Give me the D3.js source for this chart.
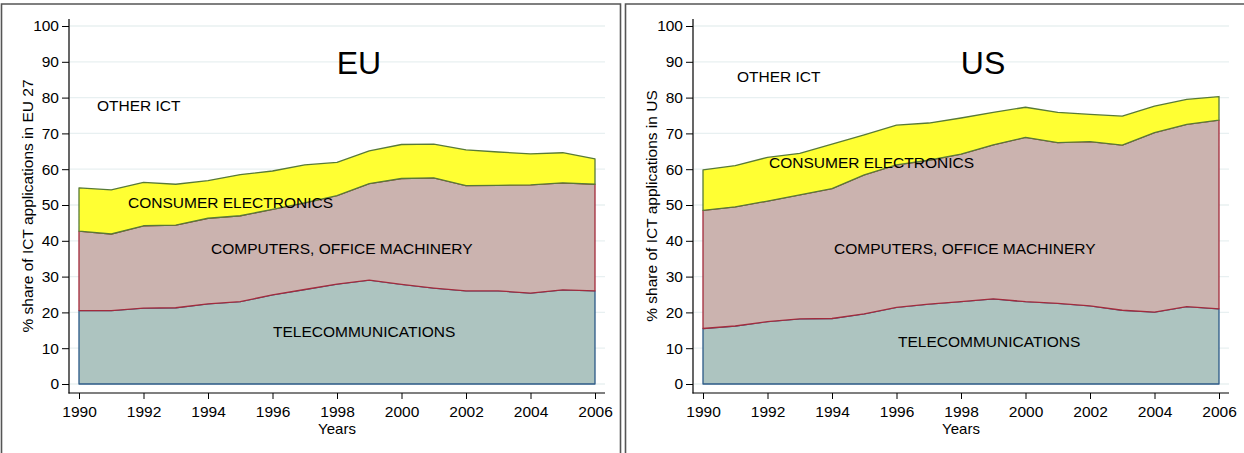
<!DOCTYPE html>
<html>
<head>
<meta charset="utf-8">
<script src="https://cdn.jsdelivr.net/npm/d3@7/dist/d3.min.js"></script>
<style>
  html, body { margin: 0; padding: 0; background: #fff; }
  svg { display: block; font-family: "Liberation Sans", Arial, sans-serif; }
</style>
</head>
<body>
<svg id="chart" width="1244" height="453"></svg>
<script>
// Years on the horizontal axis
const years = [1990, 1991, 1992, 1993, 1994, 1995, 1996, 1997, 1998,
               1999, 2000, 2001, 2002, 2003, 2004, 2005, 2006];

// Share (%) of ICT patent applications by field, EU 27
const euTelecom   = [20.5, 20.5, 21.2, 21.3, 22.4, 23.0, 24.9, 26.4, 27.9, 29.0, 27.8, 26.8, 26.0, 26.0, 25.4, 26.3, 26.0];
const euComputers = [22.2, 21.4, 23.0, 23.1, 23.9, 24.0, 23.9, 24.2, 24.7, 27.0, 29.6, 30.8, 29.4, 29.5, 30.2, 29.9, 29.8];
const euConsumer  = [12.1, 12.3, 12.1, 11.4, 10.5, 11.5, 10.7, 10.6,  9.3,  9.1,  9.5,  9.4, 10.0,  9.3,  8.7,  8.4,  7.1];

// Share (%) of ICT patent applications by field, US
const usTelecom   = [15.5, 16.2, 17.4, 18.2, 18.3, 19.6, 21.4, 22.3, 23.0, 23.8, 23.0, 22.5, 21.8, 20.6, 20.1, 21.6, 21.0];
const usComputers = [33.0, 33.3, 33.7, 34.6, 36.3, 38.8, 39.8, 40.2, 41.2, 43.0, 45.9, 44.9, 45.9, 46.1, 50.1, 50.9, 52.7];
const usConsumer  = [11.3, 11.5, 12.2, 11.6, 12.4, 11.2, 11.1, 10.4, 10.1,  9.1,  8.4,  8.5,  7.6,  8.1,  7.4,  7.0,  6.6];

// Axis ticks
const yTicks = [0, 10, 20, 30, 40, 50, 60, 70, 80, 90, 100];
const xTicks = [1990, 1992, 1994, 1996, 1998, 2000, 2002, 2004, 2006];

const seriesKeys = ["telecom", "computers", "consumer"];
const fills   = { telecom: "#adc4c0", computers: "#cbb3af", consumer: "#ffff33" };
const strokes = { telecom: "#2c5987", computers: "#a32b3c", consumer: "#587a38" };

const svg = d3.select("#chart");
const FONT = 15.5;

// Panel frames
svg.append("path")
  .attr("d", "M1.5,460V4H620.5V460")
  .attr("fill", "none").attr("stroke", "#555").attr("stroke-width", 1.6);
svg.append("path")
  .attr("d", "M625.5,460V4H1250")
  .attr("fill", "none").attr("stroke", "#555").attr("stroke-width", 1.6);

function drawPanel(cfg) {
  const g = svg.append("g");
  const left = cfg.left;              // y-axis line position
  const right = left + 536;           // end of plot region
  const top = 19, bottom = 393;       // plot region vertical extent

  const x = d3.scaleLinear().domain([1990, 2006]).range([left + 10, left + 526]);
  const y = d3.scaleLinear().domain([0, 100]).range([384, 26]);

  // Horizontal grid lines
  g.append("g").selectAll("line").data(yTicks).join("line")
    .attr("x1", left + 1).attr("x2", right)
    .attr("y1", d => y(d)).attr("y2", d => y(d))
    .attr("stroke", "#e8f0f1").attr("stroke-width", 1.3);

  // Stacked areas
  const rows = years.map((yr, i) => ({
    year: yr,
    telecom: cfg.telecom[i],
    computers: cfg.computers[i],
    consumer: cfg.consumer[i]
  }));
  const stacked = d3.stack().keys(seriesKeys)(rows);
  const area = d3.area()
    .x(d => x(d.data.year))
    .y0(d => y(d[0]))
    .y1(d => y(d[1]));
  g.append("g").selectAll("path").data(stacked).join("path")
    .attr("d", area)
    .attr("fill", d => fills[d.key])
    .attr("stroke", d => strokes[d.key])
    .attr("stroke-width", 1.3)
    .attr("stroke-linejoin", "round");

  // Axes
  const yAxis = d3.axisLeft(y).tickValues(yTicks).tickSize(7).tickPadding(3).tickSizeOuter(0);
  const ya = g.append("g").attr("transform", `translate(${left},0)`).call(yAxis);
  ya.select(".domain").remove();
  ya.selectAll(".tick line").attr("stroke", "#000");
  ya.selectAll(".tick text").attr("font-size", FONT).attr("fill", "#000")
    .attr("font-family", "Liberation Sans, Arial, sans-serif");
  g.append("line").attr("x1", left).attr("x2", left).attr("y1", top).attr("y2", bottom + 0.5)
    .attr("stroke", "#000").attr("stroke-width", 1.2);

  const xAxis = d3.axisBottom(x).tickValues(xTicks).tickFormat(d3.format("d"))
    .tickSize(6).tickPadding(7).tickSizeOuter(0);
  const xa = g.append("g").attr("transform", `translate(0,${bottom})`).call(xAxis);
  xa.select(".domain").remove();
  xa.selectAll(".tick line").attr("stroke", "#000");
  xa.selectAll(".tick text").attr("font-size", FONT).attr("fill", "#000")
    .attr("font-family", "Liberation Sans, Arial, sans-serif");
  g.append("line").attr("x1", left - 0.5).attr("x2", right).attr("y1", bottom).attr("y2", bottom)
    .attr("stroke", "#000").attr("stroke-width", 1.2);

  // Axis titles
  g.append("text")
    .attr("transform", `translate(${left + 268},434)`)
    .attr("text-anchor", "middle").attr("font-size", 15)
    .text("Years");
  g.append("text")
    .attr("transform", `translate(${left - 36},206) rotate(-90)`)
    .attr("text-anchor", "middle").attr("font-size", FONT)
    .text(cfg.yTitle);

  // Panel title
  g.append("text")
    .attr("x", left + 290).attr("y", 74)
    .attr("text-anchor", "middle").attr("font-size", 32)
    .text(cfg.title);

  // Field labels
  cfg.labels.forEach(l => {
    g.append("text")
      .attr("x", left + l.dx).attr("y", l.y)
      .attr("font-size", FONT)
      .text(l.text);
  });
}

drawPanel({
  left: 69,
  title: "EU",
  yTitle: "% share of ICT applications in EU 27",
  telecom: euTelecom, computers: euComputers, consumer: euConsumer,
  labels: [
    { text: "OTHER ICT", dx: 28, y: 111 },
    { text: "CONSUMER ELECTRONICS", dx: 59, y: 208 },
    { text: "COMPUTERS, OFFICE MACHINERY", dx: 142, y: 254 },
    { text: "TELECOMMUNICATIONS", dx: 204, y: 337 }
  ]
});

drawPanel({
  left: 693,
  title: "US",
  yTitle: "% share of ICT applications in US",
  telecom: usTelecom, computers: usComputers, consumer: usConsumer,
  labels: [
    { text: "OTHER ICT", dx: 44, y: 82 },
    { text: "CONSUMER ELECTRONICS", dx: 76, y: 168 },
    { text: "COMPUTERS, OFFICE MACHINERY", dx: 141, y: 254 },
    { text: "TELECOMMUNICATIONS", dx: 205, y: 347 }
  ]
});
</script>
</body>
</html>
